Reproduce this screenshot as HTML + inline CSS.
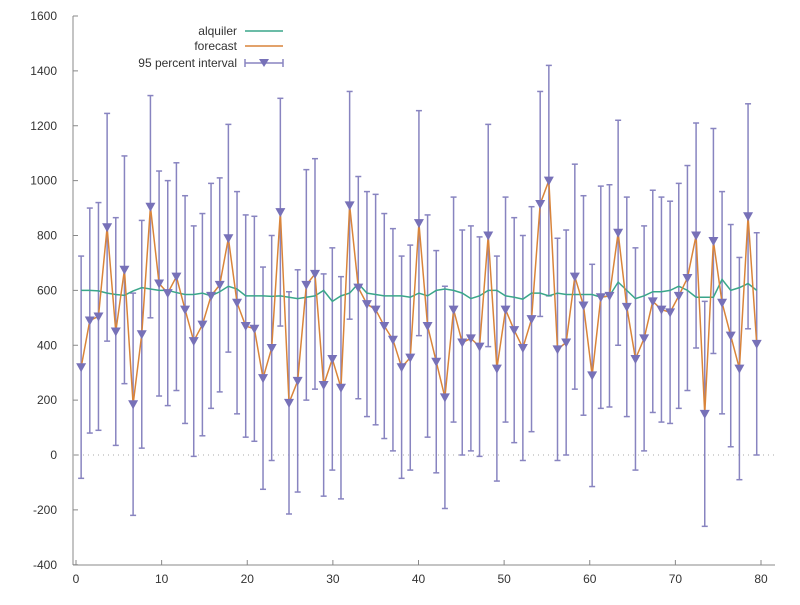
<!DOCTYPE html>
<html><head><meta charset="utf-8"><style>
body{margin:0;background:#fff;}
svg text{font-family:"Liberation Sans",sans-serif;font-size:12px;fill:#333;}
</style></head><body>
<svg id="chart" width="800" height="600" viewBox="0 0 800 600" xmlns="http://www.w3.org/2000/svg">
<g id="axes"></g>
<g id="plot"></g>
<g id="legend">
<text x="237" y="35" text-anchor="end">alquiler</text>
<line x1="245" y1="31" x2="283" y2="31" stroke="#3aa68a" stroke-width="1.5"/>
<text x="237" y="50" text-anchor="end">forecast</text>
<line x1="245" y1="46" x2="283" y2="46" stroke="#d9843a" stroke-width="1.5"/>
<text x="237" y="67" text-anchor="end">95 percent interval</text>
<line x1="245" y1="63" x2="283" y2="63" stroke="#8884c0" stroke-width="1.5"/>
<line x1="245" y1="59" x2="245" y2="67" stroke="#8884c0" stroke-width="1.5"/>
<line x1="283" y1="59" x2="283" y2="67" stroke="#8884c0" stroke-width="1.5"/>
<polygon points="259,59 269,59 264,67" fill="#7771b8"/>
</g>
</svg>
<script>
const forecast=[320,490,505,830,450,675,185,440,905,625,590,650,530,415,475,580,620,790,555,470,460,280,390,885,190,270,620,660,255,350,245,910,610,550,530,470,420,320,355,845,470,340,210,530,410,425,395,800,315,530,455,390,495,915,1000,385,410,650,545,290,575,580,810,540,350,425,560,530,520,580,645,800,150,780,555,435,315,870,405];
const halfWidth=[405,410,415,415,415,415,405,415,405,410,410,415,415,420,405,410,390,415,405,405,410,405,410,415,405,405,420,420,405,405,405,415,405,410,420,410,405,405,410,410,405,405,405,410,410,410,400,405,410,410,410,410,410,410,420,405,410,410,400,405,405,405,410,400,405,410,405,410,405,410,410,410,410,410,405,405,405,410,405];
const alquiler=[600,600,598,590,585,582,598,610,605,600,600,592,585,585,590,580,595,615,605,580,580,580,578,580,575,570,575,580,600,560,580,590,625,590,585,580,580,580,575,590,580,600,605,600,590,570,580,600,600,580,575,568,590,590,580,590,585,585,585,585,575,580,630,600,570,580,595,595,600,615,600,575,575,575,640,600,610,625,600];
const yTicks=[-400,-200,0,200,400,600,800,1000,1200,1400,1600];
const xTicks=[0,10,20,30,40,50,60,70,80];
const X0=73,X1=775,Y0=565,Y1=16;
function sx(v){return 76+v*(761-76)/80;}
function sy(v){return 455-v*(455-16)/1600;}
function px(i){return sx(0.6+i*78.9/(forecast.length-1));}
const NS="http://www.w3.org/2000/svg";
function mk(tag,attrs,parent){const e=document.createElementNS(NS,tag);for(const k in attrs)e.setAttribute(k,attrs[k]);parent.appendChild(e);return e;}
const axes=document.getElementById('axes'),plot=document.getElementById('plot');
let e=mk('line',{x1:X0,y1:Y1,x2:X0,y2:Y0,stroke:'#888','stroke-width':1},axes);


e=mk('line',{x1:X0,y1:Y0,x2:X1,y2:Y0,stroke:'#888','stroke-width':1},axes);


yTicks.forEach(t=>{const y=sy(t);
 let l=mk('line',{x1:X0,y1:y,x2:X0+5,y2:y,stroke:'#888'},axes);
 
 
 let tx=mk('text',{x:57,y:y+4,'text-anchor':'end'},axes);tx.textContent=t;
 
 });
xTicks.forEach(t=>{const x=sx(t);
 let l=mk('line',{x1:x,y1:Y0,x2:x,y2:Y0-5,stroke:'#888'},axes);
 
 
 let tx=mk('text',{x:x,y:583,'text-anchor':'middle'},axes);tx.textContent=t;
 
 });
e=mk('line',{x1:X0,y1:sy(0),x2:X1,y2:sy(0),stroke:'#aaa','stroke-dasharray':'1,4'},axes);


forecast.forEach((v,i)=>{const x=px(i),lo=sy(v-halfWidth[i]),hi=sy(v+halfWidth[i]);
 let g=mk('g',{stroke:'#8884c0','stroke-width':1.5},plot);
 
 
 mk('line',{x1:x,y1:lo,x2:x,y2:hi},g);
 mk('line',{x1:x-3,y1:lo,x2:x+3,y2:lo},g);
 mk('line',{x1:x-3,y1:hi,x2:x+3,y2:hi},g);});
let p=mk('polyline',{points:alquiler.map((v,i)=>px(i)+','+sy(v)).join(' '),fill:'none',stroke:'#3aa68a','stroke-width':1.5},plot);


p=mk('polyline',{points:forecast.map((v,i)=>px(i)+','+sy(v)).join(' '),fill:'none',stroke:'#d9843a','stroke-width':1.5},plot);


forecast.forEach((v,i)=>{const x=px(i),y=sy(v);
 let m=mk('polygon',{points:(x-5)+','+(y-4)+' '+(x+5)+','+(y-4)+' '+x+','+(y+5),fill:'#7771b8'},plot);
 
 });
</script>
</body></html>
